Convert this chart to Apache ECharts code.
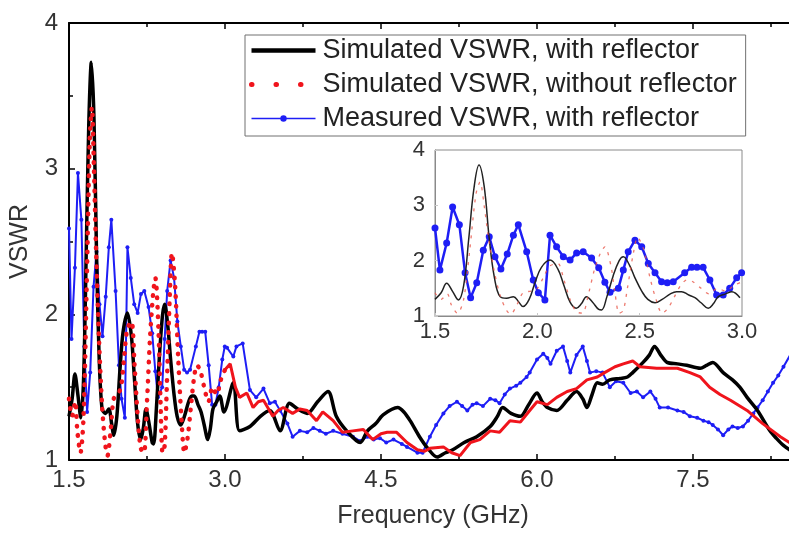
<!DOCTYPE html>
<html>
<head>
<meta charset="utf-8">
<script src="https://cdn.jsdelivr.net/npm/echarts@6/dist/echarts.min.js"></script>
<style>
  html, body { margin: 0; padding: 0; background: #fff; }
  #chart { width: 789px; height: 534px; }
</style>
</head>
<body>
<div id="chart"></div>
<script>
// simulated, with reflector (black)
const blackX = [1.50, 1.53, 1.557, 1.585, 1.614, 1.64, 1.665, 1.69, 1.715, 1.74, 1.765, 1.79, 1.818, 1.85, 1.883, 1.91, 1.93, 1.96, 1.99, 2.02, 2.062, 2.10, 2.13, 2.16, 2.19, 2.215, 2.24, 2.27, 2.30, 2.314, 2.34, 2.37, 2.40, 2.42, 2.45, 2.477, 2.51, 2.54, 2.575, 2.61, 2.65, 2.68, 2.705, 2.74, 2.77, 2.80, 2.835, 2.86, 2.884, 2.92, 2.95, 2.99,
  3.08, 3.14, 3.24, 3.34, 3.43, 3.53, 3.62, 3.70, 3.79, 3.89, 3.99, 4.07, 4.17, 4.30, 4.37, 4.45, 4.52, 4.66, 4.72, 4.78, 4.87, 4.95, 5.04, 5.12, 5.19, 5.30, 5.42, 5.55, 5.62, 5.67, 5.75, 5.84, 5.92, 6.00, 6.05, 6.10, 6.19, 6.29, 6.38, 6.44, 6.48, 6.53, 6.58, 6.63, 6.70, 6.80, 6.87, 6.92, 7.02, 7.08, 7.13, 7.19, 7.25, 7.35, 7.44, 7.57, 7.63, 7.69, 7.79, 7.88, 7.95, 8.02, 8.12, 8.24, 8.30, 8.37, 8.45];
const blackY = [1.30, 1.42, 1.59, 1.45, 1.29, 1.55, 2.40, 3.30, 3.73, 3.35, 2.40, 1.70, 1.35, 1.32, 1.35, 1.25, 1.17, 1.30, 1.62, 1.88, 2.01, 1.85, 1.55, 1.25, 1.14, 1.22, 1.35, 1.25, 1.12, 1.11, 1.35, 1.72, 2.00, 2.07, 1.92, 1.69, 1.45, 1.30, 1.24, 1.30, 1.40, 1.44, 1.44, 1.38, 1.33, 1.24, 1.14, 1.22, 1.35, 1.40, 1.44, 1.33,
  1.53, 1.20, 1.23, 1.30, 1.34, 1.20, 1.39, 1.35, 1.32, 1.40, 1.47, 1.30, 1.20, 1.12, 1.20, 1.25, 1.31, 1.36, 1.33, 1.27, 1.16, 1.08, 1.02, 1.05, 1.07, 1.12, 1.16, 1.23, 1.30, 1.36, 1.32, 1.30, 1.38, 1.46, 1.40, 1.36, 1.34, 1.41, 1.47, 1.42, 1.36, 1.45, 1.53, 1.52, 1.55, 1.56, 1.57, 1.60, 1.67, 1.72, 1.78, 1.72, 1.67, 1.66, 1.65, 1.63, 1.65, 1.67, 1.60, 1.55, 1.50, 1.43, 1.34, 1.20, 1.15, 1.10, 1.06];

// simulated, without reflector (red) - dotted part below 3 GHz, dense part above
const redLowX = [1.50, 1.53, 1.56, 1.58, 1.61, 1.64, 1.67, 1.70, 1.72, 1.74, 1.76, 1.79, 1.82, 1.85, 1.87, 1.90, 1.93, 1.97, 2.00, 2.03, 2.06, 2.10, 2.13, 2.16, 2.19, 2.22, 2.25, 2.28, 2.31, 2.33, 2.36, 2.38, 2.40, 2.42, 2.44, 2.47, 2.49, 2.52, 2.55, 2.58, 2.61, 2.64, 2.67, 2.70, 2.73, 2.76, 2.80, 2.84, 2.88, 2.92, 2.96, 3.00];
const redLowY = [1.42, 1.30, 1.40, 1.20, 1.05, 1.30, 2.20, 3.20, 3.42, 3.00, 2.45, 1.80, 1.35, 1.10, 1.03, 1.20, 1.42, 1.45, 1.50, 1.70, 1.90, 1.95, 1.65, 1.30, 1.08, 1.05, 1.40, 1.85, 2.15, 2.25, 1.90, 1.40, 1.05, 1.10, 1.50, 2.15, 2.42, 2.20, 1.70, 1.30, 1.05, 1.15, 1.35, 1.55, 1.65, 1.62, 1.50, 1.40, 1.50, 1.45, 1.55, 1.62];
const redHighX = [3.00, 3.05, 3.10, 3.14, 3.21, 3.27, 3.32, 3.37, 3.46, 3.51, 3.56, 3.65, 3.72, 3.79, 3.88, 3.94, 4.04, 4.13, 4.23, 4.33, 4.42, 4.50, 4.56, 4.65, 4.75, 4.85, 4.92, 4.97, 5.10, 5.18, 5.26, 5.36, 5.45, 5.55, 5.64, 5.74, 5.84, 5.93, 6.00, 6.10, 6.19, 6.29, 6.38, 6.48, 6.58, 6.65, 6.75, 6.83, 6.92, 6.99, 7.15, 7.35, 7.47, 7.57, 7.66, 7.76, 7.86, 8.02, 8.17, 8.34, 8.45];
const redHighY = [1.62, 1.66, 1.50, 1.43, 1.46, 1.36, 1.40, 1.41, 1.30, 1.34, 1.36, 1.32, 1.35, 1.34, 1.27, 1.33, 1.27, 1.19, 1.20, 1.21, 1.14, 1.18, 1.19, 1.19, 1.12, 1.07, 1.06, 1.08, 1.09, 1.05, 1.03, 1.12, 1.14, 1.20, 1.19, 1.27, 1.26, 1.34, 1.40, 1.38, 1.43, 1.47, 1.49, 1.55, 1.57, 1.60, 1.64, 1.66, 1.68, 1.64, 1.63, 1.63, 1.60, 1.57, 1.50, 1.45, 1.41, 1.34, 1.25, 1.16, 1.11];

// measured, with reflector (blue)
const blueX = [1.50, 1.524, 1.557, 1.586, 1.619, 1.647, 1.674, 1.704, 1.736, 1.765, 1.793, 1.822, 1.853, 1.883, 1.907, 1.948, 1.98, 2.005, 2.037, 2.062, 2.094, 2.127, 2.16, 2.192, 2.224, 2.265, 2.30, 2.33, 2.355, 2.396, 2.42, 2.444, 2.477, 2.51, 2.542, 2.575, 2.607, 2.635, 2.664, 2.72, 2.754, 2.78, 2.81, 2.843, 2.876, 2.908, 2.94, 2.974, 2.998,
  3.02, 3.08, 3.11, 3.17, 3.24, 3.30, 3.37, 3.43, 3.48, 3.53, 3.60, 3.65, 3.72, 3.79, 3.85, 3.91, 3.97, 4.04, 4.13, 4.23, 4.30, 4.37, 4.43, 4.49, 4.55, 4.62, 4.70, 4.75, 4.85, 4.90, 4.97, 5.03, 5.10, 5.16, 5.23, 5.28, 5.33, 5.38, 5.42, 5.48, 5.55, 5.60, 5.64, 5.69, 5.74, 5.80, 5.84, 5.90, 5.93, 6.00, 6.06, 6.10, 6.13, 6.19, 6.25, 6.29, 6.32, 6.38, 6.44, 6.48, 6.51, 6.57, 6.63, 6.70, 6.76, 6.83, 6.90, 6.96, 7.02, 7.09, 7.14, 7.18, 7.26, 7.35, 7.41, 7.47, 7.54, 7.60, 7.65, 7.69, 7.74, 7.79, 7.84, 7.88, 7.93, 7.98, 8.03, 8.08, 8.12, 8.17, 8.22, 8.27, 8.32, 8.37, 8.45];
const blueY = [2.59, 1.83, 2.32, 2.97, 2.65, 1.78, 1.33, 1.60, 2.19, 2.43, 2.07, 1.85, 2.12, 2.46, 2.65, 2.16, 1.65, 1.42, 1.29, 2.46, 2.25, 2.07, 2.01, 2.14, 2.16, 2.05, 1.87, 1.61, 1.43, 1.50, 1.83, 2.16, 2.37, 2.25, 1.95, 1.78, 1.62, 1.60, 1.62, 1.78, 1.88, 1.88, 1.88, 1.65, 1.38, 1.38, 1.50, 1.69, 1.78,
  1.77, 1.71, 1.78, 1.80, 1.48, 1.43, 1.49, 1.39, 1.40, 1.34, 1.25, 1.16, 1.20, 1.19, 1.22, 1.20, 1.18, 1.20, 1.18, 1.16, 1.13, 1.16, 1.14, 1.15, 1.12, 1.14, 1.11, 1.09, 1.05, 1.05, 1.16, 1.24, 1.32, 1.37, 1.40, 1.37, 1.34, 1.38, 1.39, 1.37, 1.42, 1.41, 1.39, 1.45, 1.49, 1.51, 1.53, 1.57, 1.60, 1.69, 1.73, 1.70, 1.66, 1.75, 1.78, 1.68, 1.60, 1.72, 1.78, 1.68, 1.60, 1.61, 1.60, 1.50, 1.54, 1.53, 1.46, 1.47, 1.43, 1.47, 1.42, 1.36, 1.36, 1.34, 1.33, 1.30, 1.29, 1.27, 1.26, 1.24, 1.21, 1.17, 1.21, 1.23, 1.22, 1.23, 1.27, 1.32, 1.36, 1.41, 1.47, 1.53, 1.58, 1.64, 1.74];

const legendNames = ["Simulated VSWR, with reflector", "Simulated VSWR, without reflector", "Measured VSWR, with reflector"];
const mainTicks = { min: 1.5, max: 9.0, interval: 1.5 };
const insetTicks = { min: 1.5, max: 3.0, interval: 0.5 };

function pairs(xs, ys, lo, hi) {
  var out = [];
  for (var i = 0; i < xs.length; i++) {
    if (lo === undefined || (xs[i] >= lo && xs[i] <= hi)) out.push([xs[i], ys[i]]);
  }
  return out;
}

var BLACK = "#000000", RED = "#f0141c", BLUE = "#1e1ef5";
var FONT = "Liberation Sans";

var chart = echarts.init(document.getElementById("chart"));

var option = {
  animation: false,
  backgroundColor: "#ffffff",
  textStyle: { fontFamily: FONT },
  legend: {
    data: [
      { name: legendNames[0], itemStyle: { opacity: 0 }, lineStyle: { width: 4.5, color: BLACK } },
      { name: legendNames[1], itemStyle: { opacity: 0 }, lineStyle: { type: [0.5, 24], width: 5, cap: "round", color: RED } },
      { name: legendNames[2], lineStyle: { width: 1.5, color: BLUE } }
    ],
    orient: "vertical",
    left: 245,
    top: 35,
    itemWidth: 64,
    itemHeight: 8,
    itemGap: 7,
    padding: [2, 9, 4, 4],
    borderColor: "#707070",
    borderWidth: 1,
    backgroundColor: "#ffffff",
    selectedMode: false,
    textStyle: { fontSize: 27, color: "#222", fontFamily: FONT, lineHeight: 27, padding: [0, 0, 0, 2] }
  },
  grid: [
    { left: 69, top: 23, width: 780, height: 437, show: false, outerBoundsMode: "none", containLabel: false },
    { left: 435, top: 150, width: 307, height: 166, show: true, borderColor: "#8a8a8a", borderWidth: 1, backgroundColor: "#ffffff", outerBoundsMode: "none", containLabel: false }
  ],
  xAxis: [
    {
      gridIndex: 0, type: "value", min: mainTicks.min, max: mainTicks.max, interval: mainTicks.interval,
      position: "bottom",
      axisLine: { lineStyle: { color: "#000", width: 2 } },
      axisTick: { inside: true, length: 6, lineStyle: { color: "#000", width: 1.5 } },
      minorTick: { show: true, splitNumber: 2, length: 4, lineStyle: { color: "#000", width: 1.5 } },
      splitLine: { show: false },
      axisLabel: { fontSize: 24, color: "#333", margin: 8, showMaxLabel: false, formatter: function (v) { return v.toFixed(1); } },
      name: "Frequency (GHz)", nameLocation: "middle", nameGap: 44,
      nameTextStyle: { fontSize: 25, color: "#333", padding: [0, 52, 0, 0] }
    },
    {
      gridIndex: 0, type: "value", min: mainTicks.min, max: mainTicks.max, interval: mainTicks.interval,
      position: "top",
      axisLine: { lineStyle: { color: "#000", width: 2 } },
      axisTick: { inside: true, length: 6, lineStyle: { color: "#000", width: 1.5 } },
      minorTick: { show: true, splitNumber: 2, length: 4, lineStyle: { color: "#000", width: 1.5 } },
      splitLine: { show: false },
      axisLabel: { show: false }
    },
    {
      gridIndex: 1, type: "value", min: insetTicks.min, max: insetTicks.max, interval: insetTicks.interval,
      axisLine: { lineStyle: { color: "#8a8a8a", width: 1 } },
      axisTick: { inside: true, length: 3, lineStyle: { color: "#c8c8c8" } },
      splitLine: { show: false },
      axisLabel: { fontSize: 22, color: "#333", margin: 5, formatter: function (v) { return v.toFixed(1); } }
    }
  ],
  yAxis: [
    {
      gridIndex: 0, type: "value", min: 1, max: 4, interval: 1,
      axisLine: { show: true, lineStyle: { color: "#000", width: 2 } },
      axisTick: { show: true, inside: true, length: 6, lineStyle: { color: "#000", width: 1.5 } },
      minorTick: { show: true, splitNumber: 2, length: 4, lineStyle: { color: "#000", width: 1.5 } },
      splitLine: { show: false },
      axisLabel: { fontSize: 24, color: "#333", margin: 11 },
      name: "VSWR", nameLocation: "middle", nameGap: 36, nameRotate: 90,
      nameTextStyle: { fontSize: 25, color: "#333" }
    },
    {
      gridIndex: 1, type: "value", min: 1, max: 4, interval: 1,
      axisLine: { show: true, lineStyle: { color: "#8a8a8a", width: 1 } },
      axisTick: { show: true, inside: true, length: 3, lineStyle: { color: "#c8c8c8" } },
      splitLine: { show: false },
      axisLabel: { fontSize: 22, color: "#333", margin: 10 }
    }
  ],
  series: [
    {
      name: legendNames[0], type: "line", xAxisIndex: 0, yAxisIndex: 0,
      data: pairs(blackX, blackY), symbol: "none", smooth: 0.3,
      lineStyle: { color: BLACK, width: 3.5 }, itemStyle: { color: BLACK }, z: 3
    },
    {
      name: legendNames[1], type: "line", xAxisIndex: 0, yAxisIndex: 0,
      data: pairs(redLowX, redLowY), symbol: "none", smooth: 0.3,
      lineStyle: { color: RED, width: 4.5, type: [0.5, 9], cap: "round" }, itemStyle: { color: RED }, z: 4
    },
    {
      name: legendNames[2], type: "line", xAxisIndex: 0, yAxisIndex: 0,
      data: pairs(blueX, blueY), symbol: "circle", symbolSize: 4, showSymbol: true,
      lineStyle: { color: BLUE, width: 2 }, itemStyle: { color: BLUE }, z: 2
    },
    {
      name: legendNames[1], type: "line", xAxisIndex: 0, yAxisIndex: 0,
      data: pairs(redHighX, redHighY), symbol: "none",
      lineStyle: { color: RED, width: 3 }, itemStyle: { color: RED }, z: 4
    },
    {
      name: legendNames[2], type: "line", xAxisIndex: 2, yAxisIndex: 1,
      data: pairs(blueX, blueY, 1.5, 3.0), symbol: "circle", symbolSize: 7, showSymbol: true,
      lineStyle: { color: BLUE, width: 2.5 }, itemStyle: { color: BLUE }, z: 5
    },
    {
      name: legendNames[0], type: "line", xAxisIndex: 2, yAxisIndex: 1,
      data: pairs(blackX, blackY, 1.5, 3.0), symbol: "none", smooth: 0.4,
      lineStyle: { color: "#222", width: 1.5 }, z: 6
    },
    {
      name: legendNames[1], type: "line", xAxisIndex: 2, yAxisIndex: 1,
      data: pairs(redLowX, redLowY, 1.5, 3.0), symbol: "none", smooth: 0.3,
      lineStyle: { color: "#e8584a", width: 1.3, type: [3, 6], opacity: 0.8 }, z: 6
    }
  ]
};

chart.setOption(option);
</script>
</body>
</html>
